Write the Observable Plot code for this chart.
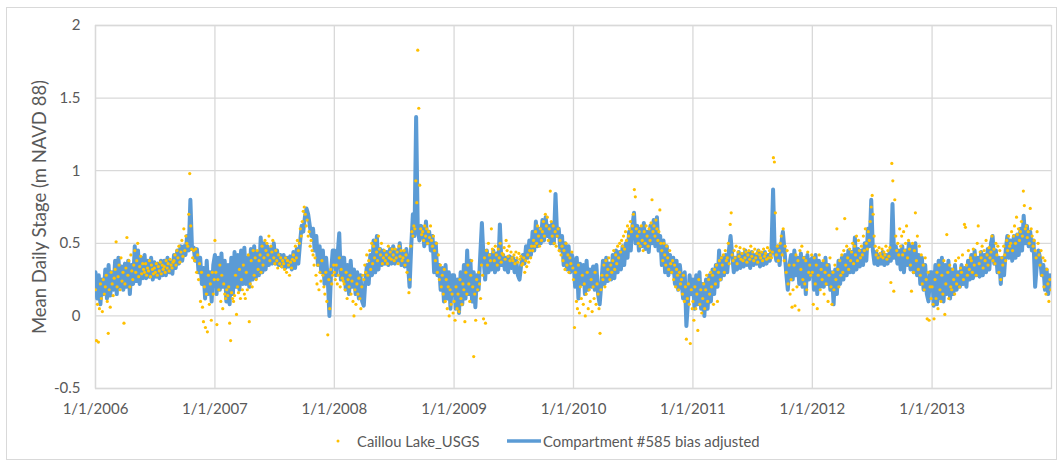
<!DOCTYPE html>
<html><head><meta charset="utf-8">
<script src="https://cdn.jsdelivr.net/npm/d3@7"></script>
<script src="https://cdn.jsdelivr.net/npm/@observablehq/plot@0.6"></script>
<style>
html,body{margin:0;padding:0;background:#fff;width:1059px;height:463px;overflow:hidden;font-family:Lato,"Open Sans",sans-serif;}
#border{position:absolute;left:6px;top:7px;width:1051px;height:453px;border:1px solid #d9d9d9;box-sizing:border-box;}
#chart{position:absolute;left:0;top:0;}
#legend{position:absolute;left:0;top:0;}
</style></head>
<body>
<div id="border"></div>
<div id="chart"></div>
<svg id="legend" width="1059" height="463"></svg>
<script>
// Series labels
const seriesObserved = "Caillou Lake_USGS";
const seriesModeled = "Compartment #585 bias adjusted";
const yAxisTitle = "Mean Daily Stage (m NAVD 88)";
const years = [2006, 2007, 2008, 2009, 2010, 2011, 2012, 2013];
const xTickLabels = ["1/1/2006","1/1/2007","1/1/2008","1/1/2009","1/1/2010","1/1/2011","1/1/2012","1/1/2013"];
const yTicks = [-0.5, 0, 0.5, 1, 1.5, 2];
const yTickLabels = ["-0.5","0","0.5","1","1.5","2"];
const modeledStepDays = 5;
const observedStepDays = 3;

// Compartment #585 bias adjusted (m), one reading every 5 days
const modeled2006 = [.30,.12,.28,.08,.25,.15, .32,.12,.35,.14,.30,.18, .38,.15,.40,.20,.34,.18, .36,.20,.38,.15,.35,.22, .48,.24,.45,.22,.40,.26, .42,.26,.38,.27,.40,.25, .37,.27,.36,.26,.38,.28, .38,.28,.40,.30,.37,.29, .42,.33,.45,.36,.48,.38, .48,.42,.55,.45,.80,.46, .47,.38,.46,.30,.40,.22, .33,.12,.38,.15,.30,.10,.35];
const modeled2007 = [.42,.15,.40,.18,.43,.20, .38,.10,.35,.08,.40,.15, .44,.20,.42,.18,.45,.22, .47,.22,.40,.20,.46,.25, .48,.26,.44,.28,.54,.30, .50,.32,.48,.35,.46,.36, .50,.36,.45,.35,.42,.34, .42,.33,.40,.34,.41,.32, .44,.33,.46,.36,.50,.62, .58,.68,.74,.70,.62,.55, .60,.45,.55,.35,.48,.30, .45,.22,.40,.25,.00,.30,.45];
const modeled2008 = [.45,.28,.42,.57,.25,.40, .40,.18,.35,.15,.38,.20, .32,.15,.30,.12,.28,.10, .07,.25,.35,.22,.42,.28, .52,.30,.55,.32,.46,.35, .45,.36,.44,.35,.46,.36, .48,.36,.45,.38,.50,.35, .44,.34,.46,.36,.20,.48, .70,.55,1.37,.60,.52,.62, .60,.48,.65,.50,.58,.45, .55,.30,.50,.28,.35,.18, .33,.10,.35,.12,.30,.05,.28];
const modeled2009 = [.28,.05,.25,.02,.30,.08, .35,.12,.45,.15,.38,.10, .30,.06,.28,.18,.42,.64, .40,.25,.45,.30,.42,.32, .45,.30,.43,.32,.63,.35, .42,.32,.40,.30,.41,.33, .40,.30,.38,.28,.25,.35, .42,.36,.48,.40,.52,.42, .58,.45,.65,.48,.60,.50, .66,.52,.68,.55,.62,.50, .64,.50,.84,.55,.60,.45, .55,.35,.50,.32,.48,.30,.42];
const modeled2010 = [.38,.20,.40,.12,.36,.22, .35,.15,.38,.18,.32,.20, .34,.18,.35,.15,.08,.22, .38,.22,.40,.24,.36,.25, .42,.26,.45,.30,.44,.32, .48,.35,.50,.40,.58,.45, .62,.71,.50,.62,.45,.60, .48,.64,.46,.58,.44,.62, .50,.66,.48,.68,.45,.55, .35,.52,.30,.48,.28,.42, .30,.40,.22,.38,.18,.35, .25,.12,.30,-.07,.10,.28,.15];
const modeled2011 = [.25,.05,.28,.08,.30,.05, .22,.00,.25,.05,.28,.10, .32,.15,.35,.20,.45,.25, .40,.28,.42,.30,.45,.55, .42,.30,.40,.32,.44,.33, .42,.34,.45,.35,.43,.33, .44,.35,.42,.36,.45,.34, .43,.35,.44,.36,.42,.38, .45,.87,.44,.38,.48,.35, .50,.58,.45,.30,.18,.35, .42,.25,.45,.28,.40,.22, .43,.20,.40,.15,.42,.25,.38];
const modeled2012 = [.40,.18,.42,.15,.38,.20, .36,.20,.40,.22,.35,.18, .30,.08,.32,.15,.38,.22, .40,.25,.42,.28,.45,.30, .44,.30,.54,.32,.46,.34, .45,.35,.50,.38,.60,.48, .80,.45,.36,.44,.35,.42, .36,.44,.35,.42,.36,.43, .38,.77,.40,.48,.36,.45, .32,.48,.30,.45,.35,.50, .32,.48,.30,.50,.28,.42, .22,.40,.18,.35,.15,.10,.30];
const modeled2013 = [.30,.07,.35,.08,.38,.12, .40,.10,.35,.15,.38,.12, .32,.15,.35,.18,.30,.20, .35,.22,.33,.20,.38,.25, .42,.26,.45,.28,.40,.27, .44,.28,.42,.30,.46,.32, .50,.55,.36,.45,.30,.40, .22,.40,.28,.45,.55,.40, .52,.38,.55,.40,.56,.42, .60,.45,.69,.50,.62,.48, .58,.45,.52,.20,.35,.45, .40,.28,.35,.18,.32,.15,.28];

// Caillou Lake_USGS (m), one reading every 3 days
const observed2006 = [.18,-.17,.08,-.18,.05,.22,.12,.03,.25,.15, .20,.28,.10,-.12,.18,.06,.30,.22,.14,.26, .32,.51,.20,.27,.35,.18,.40,.24,.30,-.05, .22,.33,.54,.28,.38,.20,.42,.31,.25,.35, .45,.30,.38,.50,.27,.34,.41,.29,.36,.32, .30,.36,.28,.33,.31,.38,.27,.35,.32,.29, .33,.30,.36,.28,.34,.31,.37,.29,.35,.32, .34,.30,.38,.33,.36,.31,.39,.35,.33,.37, .38,.42,.35,.45,.40,.48,.37,.44,.52,.41, .60,.45,.55,.50,.48,.70,.98,.62,.46,.40, .45,.38,.46,.30,.42,.25,.36,.10,.30,.06, -.04,.20,-.08,.15,-.11,.28,.08,.22,-.03,.30,.15,.25];
const observed2007 = [.52,.30,-.06,.25,.18,.35,.10,.28,.05,.22, .15,.12,.18,.14,.20,-.05,-.17,.16,.12,.10, .14,.28,.01,.20,.16,.32,.12,.25,.18,.35, .15,.12,.30,.18,.42,-.04,.22,.38,.20,.45, .28,.40,.25,.45,.32,.38,.42,.30,.48,.35, .40,.52,.45,.50,.42,.55,.38,.48,.44,.52, .40,.36,.45,.38,.33,.42,.36,.40,.34,.38, .36,.32,.40,.30,.38,.35,.28,.37,.33,.39, .42,.38,.48,.40,.52,.45,.50,.60,.55,.65, .72,.75,.70,.62,.66,.55,.58,.48,.52,.45, .42,.35,.40,.28,.22,.35,.18,.30,.24,.38, .28,.20,.15,.30,.10,-.13,.25,.05,.32,.22,.28,.35];
const observed2008 = [.30,.25,.35,.22,.28,.40,.20,.32,.26,.24, .22,.18,.30,.12,.25,.20,.28,.15,.24,.10, .00,.18,.08,.22,.15,.26,.12,.05,.20,.28, .25,.35,.30,.42,.28,.38,.45,.32,.50,.36, .48,.40,.52,.44,.38,.55,.46,.42,.50,.36, .40,.45,.38,.42,.36,.48,.40,.44,.39,.46, .42,.38,.46,.40,.44,.36,.48,.41,.45,.38, .40,.45,.35,.42,.30,.38,.16,.25,.48,.58, .55,.62,.60,.93,.78,1.83,1.43,.90,.60,.56, .58,.52,.62,.55,.60,.50,.58,.54,.62,.52, .48,.55,.45,.38,.50,.30,.42,.25,.35,.20, .28,.15,.32,.10,.25,.05,.20,.00,.18,.08,.15,.02];
const observed2009 = [.10,-.03,.20,.05,.15,.03,.25,.12,.08,.22, .18,-.04,.30,.15,.35,.22,.10,.28,.38,.20, -.28,.15,-.03,.25,.18,.30,.22,.12,.35,.28, -.02,.40,-.05,.45,.35,.50,.42,.38,.60,.46, .44,.38,.48,.42,.35,.46,.40,.50,.37,.43, .42,.47,.39,.52,.45,.41,.48,.38,.44,.40, .38,.42,.36,.44,.40,.37,.43,.39,.41,.35, .36,.40,.30,.38,.34,.42,.37,.45,.40,.48, .45,.52,.48,.58,.50,.62,.55,.48,.60,.52, .58,.65,.55,.70,.62,.68,.52,.60,.86,.65, .55,.62,.50,.58,.48,.55,.60,.45,.52,.42, .48,.38,.45,.32,.50,.35,.42,.30,.40,.36,.44,.33];
const observed2010 = [.25,-.08,.30,.10,.05,.35,.02,.20,.12,.28, .08,.22,.00,.15,.30,.05,.18,.10,.25,.03, .20,.12,.30,.08,.22,.15,.05,-.12,.18,.28, .25,.35,.20,.38,.28,.32,.40,.25,.35,.30, .38,.45,.32,.42,.36,.48,.40,.50,.44,.52, .48,.55,.46,.58,.52,.62,.55,.60,.65,.58, .62,.70,.87,.82,.60,.55,.50,.58,.48,.62, .52,.45,.58,.50,.62,.55,.48,.60,.52,.64, .80,.58,.62,.55,.66,.60,.52,.58,.73,.50, .45,.38,.50,.42,.35,.48,.40,.32,.45,.36, .30,.38,.25,.35,.20,.32,.28,.18,.30,.22, .25,.15,.28,.10,.20,-.16,.12,.22,.08,-.19,.18,.05];
const observed2011 = [.10,-.03,.20,.05,.15,-.10,.25,.08,.18,.02, .12,.22,.05,.18,.28,.10,.25,.15,.30,.20, .28,.08,.32,.22,.35,.10,.30,.38,.25,.40, .35,.42,.30,.45,.38,.40,.50,.36,.63,.71, .42,.38,.45,.40,.48,.36,.44,.41,.47,.39, .43,.38,.46,.40,.44,.37,.42,.45,.39,.48, .41,.44,.38,.46,.40,.43,.37,.45,.42,.40, .44,.38,.46,.41,.43,.39,.47,.40,.45,.42, .40,.44,1.09,1.06,.71,.42,.48,.38,.45,.50, .55,.42,.60,.38,.48,.30,.45,.22,.35,.15, .25,.06,.18,.35,.07,.42,.20,.38,.04,.45, .32,.48,.25,.40,.22,.38,.18,.44,.30,.35,.28,.42];
const observed2012 = [.30,.08,.40,.22,.35,.05,.28,.42,.18,.32, .25,.38,.15,.30,.22,.35,.10,.28,.40,.20, .08,.30,.18,.35,.25,.60,.32,.20,.38,.28, .42,.30,.45,.67,.35,.48,.40,.32,.46,.38, .44,.50,.36,.48,.42,.55,.38,.52,.45,.40, .48,.42,.55,.45,.60,.50,.46,.58,.52,.65, .75,.83,.70,.55,.48,.42,.45,.40,.47,.43, .41,.46,.40,.44,.42,.48,.39,.45,.41,.47, .23,1.05,.93,.17,.80,.55,.45,.50,.42,.60, .48,.55,.42,.58,.45,.50,.62,.40,.52,.46, .35,.17,.50,.30,.45,.71,.38,.55,.32,.48, .28,.42,.22,.35,.18,.40,.25,-.02,.30,-.03,.20,.12];
const observed2013 = [.20,.08,-.02,.25,.12,.30,.05,.35,.18,.10, .28,.15,.38,.01,.22,.56,.30,.12,.35,.20, .18,.32,.25,.15,.38,.22,.28,.40,.20,.33, .30,.42,.25,.63,.61,.35,.28,.45,.32,.40, .38,.30,.46,.35,.42,.28,.50,.62,.36,.44, .40,.48,.33,.45,.38,.52,.42,.35,.47,.40, .44,.55,.38,.46,.36,.50,.42,.48,.30,.45, .25,.40,.35,.48,.42,.38,.52,.45,.55,.48, .50,.58,.45,.55,.62,.50,.68,.56,.60,.52, .58,.65,.55,.86,.76,.60,.62,.54,.58,.50, .74,.60,.55,.48,.52,.45,.40,.58,.50,.42, .35,.45,.28,.40,.20,.38,.15,.32,.22,.10,.25,.18];

const modeledYears = [modeled2006, modeled2007, modeled2008, modeled2009, modeled2010, modeled2011, modeled2012, modeled2013];
const observedYears = [observed2006, observed2007, observed2008, observed2009, observed2010, observed2011, observed2012, observed2013];

const DAY = 86400000;
function toRows(perYear, step) {
  return perYear.flatMap((vals, k) => vals.map((v, i) => ({date: new Date(Date.UTC(years[k], 0, 1) + i * step * DAY), value: v})));
}
const modeled = toRows(modeledYears, modeledStepDays);
const observed = toRows(observedYears, observedStepDays);
const yearStarts = years.map(y => new Date(Date.UTC(y, 0, 1)));

const grid = "#d9d9d9";
const font = "Lato, 'Open Sans', sans-serif";
const chart = Plot.plot({
  width: 1059, height: 410,
  marginLeft: 95, marginRight: 8, marginTop: 25, marginBottom: 22,
  style: {fontFamily: font, fontSize: "15px", color: "#595959", background: "transparent", overflow: "visible"},
  x: {type: "utc", domain: [new Date(Date.UTC(2006, 0, 1)), new Date(Date.UTC(2014, 0, 1))]},
  y: {domain: [-0.5, 2]},
  marks: [
    Plot.ruleY(yTicks, {stroke: grid, strokeWidth: 1.3}),
    Plot.ruleX(yearStarts, {stroke: grid, strokeWidth: 1.3}),
    Plot.frame({stroke: grid, strokeWidth: 1.3}),
    Plot.lineY(modeled, {x: "date", y: "value", stroke: "#5B9BD5", strokeWidth: 4, clip: true}),
    Plot.dot(observed, {x: "date", y: "value", r: 1.6, fill: "#FFC000", clip: true}),
    Plot.axisX({ticks: yearStarts, tickFormat: d => xTickLabels[d.getUTCFullYear() - years[0]], tickSize: 0, tickPadding: 15, label: null, fill: "#595959"}),
    Plot.axisY({ticks: yTicks, tickFormat: d => yTickLabels[yTicks.indexOf(d)], tickSize: 0, tickPadding: 15, label: null, fill: "#595959"}),
    Plot.text([yAxisTitle], {frameAnchor: "left", textAnchor: "middle", lineAnchor: "middle", dx: -55, rotate: -90, fontSize: 18.5, fill: "#595959"})
  ]
});
document.getElementById("chart").appendChild(chart);

// Legend
const leg = d3.select("#legend");
leg.append("circle").attr("cx", 338).attr("cy", 441).attr("r", 1.5).attr("fill", "#FFC000");
leg.append("text").attr("x", 357).attr("y", 447).attr("fill", "#595959").attr("font-size", 14.8).attr("font-family", font).text(seriesObserved);
leg.append("line").attr("x1", 507).attr("x2", 541).attr("y1", 441).attr("y2", 441).attr("stroke", "#5B9BD5").attr("stroke-width", 3.5);
leg.append("text").attr("x", 543).attr("y", 447).attr("fill", "#595959").attr("font-size", 14.8).attr("font-family", font).text(seriesModeled);
</script>
</body></html>
